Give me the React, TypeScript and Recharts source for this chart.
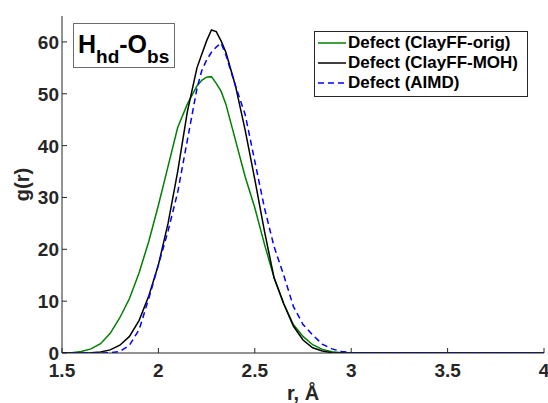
import React from "react"
import { LineChart, Line, XAxis, YAxis } from "recharts"

// r grid (Å) shared by the three curves
const rValues = [
	1.5, 1.55, 1.6, 1.65, 1.7, 1.75, 1.8, 1.85, 1.9, 1.95, 2.0, 2.05, 2.1, 2.15, 2.2, 2.225, 2.25, 2.275, 2.3,
	2.325, 2.35, 2.4, 2.45, 2.5, 2.55, 2.6, 2.65, 2.7, 2.75, 2.8, 2.85, 2.9, 2.95, 3.0, 3.05, 3.5, 4.0,
]
const clayffOrig = [
	0, 0.05, 0.3, 0.8, 1.8, 3.8, 6.8, 10.5, 15.5, 21.5, 28.5, 36, 43.5, 48, 51.5, 52.6, 53.2, 53.3, 52, 50.5, 48,
	41, 34, 28, 21, 14.5, 9.5, 5.5, 3.2, 1.6, 0.7, 0.25, 0.05, 0, 0, 0, 0,
]
const clayffMoh = [
	0, 0, 0, 0.05, 0.2, 0.6, 1.5, 3.2, 6.3, 11, 17, 25, 35, 46.5, 55, 57.6, 60.2, 62.3, 62, 60.2, 58, 51.5, 43,
	33.5, 23.5, 14.5, 9.5, 5.2, 2.5, 1.0, 0.4, 0.05, 0, 0, 0, 0, 0,
]
const aimd = [
	0, 0, 0, 0, 0, 0.05, 0.3, 1.5, 4.5, 10.5, 17, 23.5, 31, 41, 51, 54.5, 56.5, 58, 59, 59.8, 57.5, 51.5, 46, 37,
	28, 20.5, 15, 9, 5.5, 3.5, 1.7, 0.8, 0.3, 0.05, 0, 0, 0,
]
const seriesNames = ["Defect (ClayFF-orig)", "Defect (ClayFF-MOH)", "Defect (AIMD)"]
const xTicks = [1.5, 2, 2.5, 3, 3.5, 4]
const yTicks = [0, 10, 20, 30, 40, 50, 60]

const data = rValues.map((r, i) => ({ r, orig: clayffOrig[i], moh: clayffMoh[i], aimd: aimd[i] }))

const FONT = '"Liberation Sans", Arial, Helvetica, sans-serif'
const INK = "#262626"
const TICK_LEN = 5

const labelStyle = { fill: INK, fontSize: 19, fontWeight: 700, fontFamily: FONT }

// MATLAB-ish inward ticks drawn by custom tick renderers
function BottomTick({ x, y, payload }: any) {
	return (
		<g>
			<line x1={x} y1={y} x2={x} y2={y - TICK_LEN} stroke={INK} />
			<text x={x} y={y + 24} textAnchor="middle" {...labelStyle}>
				{payload.value}
			</text>
		</g>
	)
}
function TopTick({ x, y }: any) {
	return <line x1={x} y1={y} x2={x} y2={y + TICK_LEN} stroke={INK} />
}
function LeftTick({ x, y, payload }: any) {
	return (
		<g>
			<line x1={x} y1={y} x2={x + TICK_LEN} y2={y} stroke={INK} />
			<text x={x - 3} y={y + 7} textAnchor="end" {...labelStyle}>
				{payload.value}
			</text>
		</g>
	)
}
function RightTick({ x, y }: any) {
	return <line x1={x} y1={y} x2={x - TICK_LEN} y2={y} stroke={INK} />
}

const legendItems = [
	{ name: seriesNames[0], color: "#008000", dash: undefined },
	{ name: seriesNames[1], color: "#000000", dash: undefined },
	{ name: seriesNames[2], color: "#0000ff", dash: "6 4" },
]

export default function App() {
	return (
		<div style={{ position: "absolute", left: 0, top: 0, width: 548, height: 403, background: "#fff" }}>
			<LineChart width={548} height={403} data={data} margin={{ top: 16, right: 4, bottom: 0, left: 0 }}>
				<XAxis
					dataKey="r"
					type="number"
					domain={[1.5, 4]}
					ticks={xTicks}
					height={50}
					tickSize={0}
					tickMargin={0}
					tickLine={false}
					axisLine={{ stroke: INK }}
					tick={<BottomTick />}
					allowDataOverflow
					label={{
						value: "r, Å",
						position: "insideBottom",
						offset: 3,
						style: { fill: INK, fontSize: 20, fontWeight: 700, fontFamily: FONT },
					}}
				/>
				<XAxis
					xAxisId="top"
					orientation="top"
					dataKey="r"
					type="number"
					domain={[1.5, 4]}
					ticks={xTicks}
					height={0}
					tickSize={0}
					tickMargin={0}
					tickLine={false}
					axisLine={{ stroke: INK }}
					tick={<TopTick />}
					allowDataOverflow
				/>
				<YAxis
					type="number"
					domain={[0, 65]}
					ticks={yTicks}
					width={62}
					tickSize={0}
					tickMargin={0}
					tickLine={false}
					axisLine={{ stroke: INK }}
					tick={<LeftTick />}
					allowDataOverflow
					label={{
						value: "g(r)",
						angle: -90,
						position: "insideLeft",
						offset: 22,
						style: { fill: INK, fontSize: 20, fontWeight: 700, fontFamily: FONT, textAnchor: "middle" },
					}}
				/>
				<YAxis
					yAxisId="right"
					orientation="right"
					type="number"
					domain={[0, 65]}
					ticks={yTicks}
					width={0}
					tickSize={0}
					tickMargin={0}
					tickLine={false}
					axisLine={{ stroke: INK }}
					tick={<RightTick />}
					allowDataOverflow
				/>
				<Line
					dataKey="orig"
					name={seriesNames[0]}
					type="linear"
					stroke="#008000"
					strokeWidth={1.5}
					dot={false}
					isAnimationActive={false}
				/>
				<Line
					dataKey="moh"
					name={seriesNames[1]}
					type="linear"
					stroke="#000000"
					strokeWidth={1.5}
					dot={false}
					isAnimationActive={false}
				/>
				<Line
					dataKey="aimd"
					name={seriesNames[2]}
					type="linear"
					stroke="#0000ff"
					strokeWidth={1.5}
					strokeDasharray="6 4"
					dot={false}
					isAnimationActive={false}
				/>
			</LineChart>

			{/* title box */}
			<div
				style={{
					position: "absolute",
					left: 73,
					top: 23,
					width: 96,
					height: 43,
					border: "1px solid #6b6b6b",
					background: "#fff",
					fontFamily: FONT,
					fontWeight: 700,
					color: "#000",
					fontSize: 25,
					lineHeight: "40px",
					paddingLeft: 4,
					boxSizing: "content-box",
					whiteSpace: "nowrap",
					overflow: "hidden",
				}}
			>
				H<sub style={{ fontSize: 19, verticalAlign: -10, lineHeight: 0 }}>hd</sub>-O
				<sub style={{ fontSize: 19, verticalAlign: -10, lineHeight: 0 }}>bs</sub>
			</div>

			{/* legend box */}
			<div
				style={{
					position: "absolute",
					left: 314,
					top: 31,
					width: 212,
					height: 63,
					border: "1px solid #262626",
					background: "#fff",
					fontFamily: FONT,
					fontWeight: 700,
					fontSize: 17,
					color: "#000",
					paddingTop: 1,
				}}
			>
				{legendItems.map((it) => (
					<div key={it.name} style={{ display: "flex", alignItems: "center", height: 20, whiteSpace: "nowrap" }}>
						<svg width={33} height={20} style={{ flex: "none" }}>
							<line x1={3} y1={10} x2={31} y2={10} stroke={it.color} strokeWidth={1.5} strokeDasharray={it.dash} />
						</svg>
						<span>{it.name}</span>
					</div>
				))}
			</div>
		</div>
	)
}
